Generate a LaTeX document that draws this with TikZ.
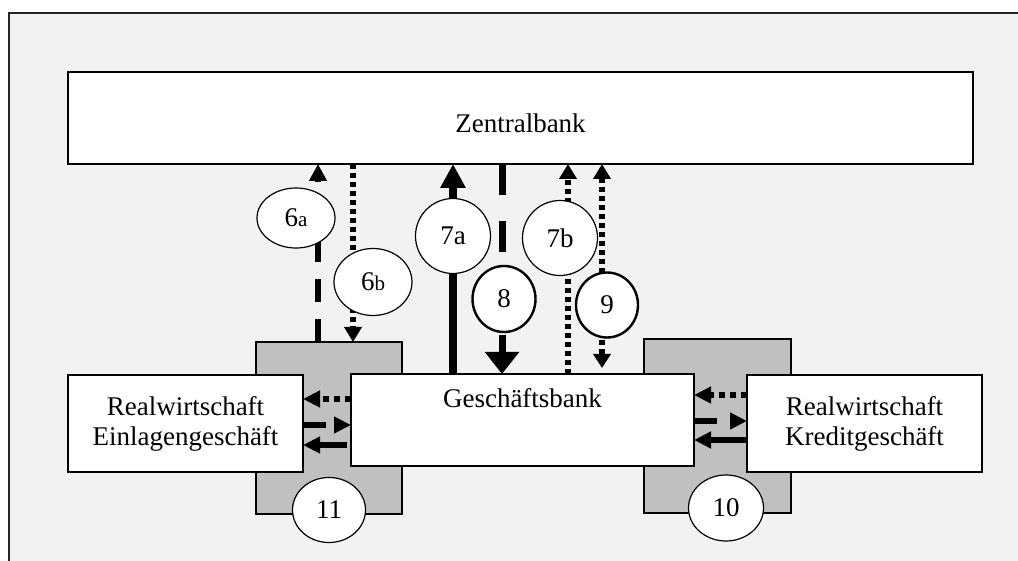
\documentclass[tikz,border=0pt]{standalone}
\usepackage{fontspec}
\setmainfont{Liberation Serif}
\usetikzlibrary{shapes.geometric,arrows.meta,positioning}
\definecolor{framegray}{HTML}{F2F2F2}
\definecolor{boxgray}{HTML}{C0C0C0}
\newcommand{\smallidx}[1]{{\fontsize{10.5}{12}\selectfont #1}}
\tikzset{%
bankbox/.style={rectangle, draw=black, line width=1.2pt, fill=white, outer sep=0pt, inner sep=0pt, align=center, font=\fontsize{13.5}{15}\selectfont},
shadebox/.style={rectangle, draw=black, line width=1.2pt, fill=boxgray, outer sep=0pt},
tagnode/.style={ellipse, draw=black, line width=0.6pt, fill=white, inner sep=0pt, font=\fontsize{13.5}{15}\selectfont},
thicktag/.style={tagnode, line width=1.2pt},
upsolid/.style={line width=4pt, -{Triangle[length=12pt,width=12pt]}},
downdash/.style={line width=3.5pt, dash pattern=on 15.5pt off 13pt, -{Triangle[length=11pt,width=16.5pt]}},
updash/.style={line width=3pt, dash pattern=on 11.5pt off 8.5pt, -{Triangle[length=8.5pt,width=8.5pt]}},
dotflow/.style={line width=2.6pt, dash pattern=on 2.5pt off 2pt, -{Triangle[length=7.5pt,width=8.5pt]}},
dotboth/.style={dotflow, {Triangle[length=7.5pt,width=8.5pt]}-{Triangle[length=7pt,width=8.5pt]}},
sidedot/.style={line width=3pt, dash pattern=on 3pt off 2.5pt, -{Triangle[length=8.5pt,width=8pt]}},
sidedash/.style={line width=3pt, dash pattern=on 11.5pt off 20pt, -{Triangle[length=8.5pt,width=8pt]}},
sidesolid/.style={line width=3pt, -{Triangle[length=8.5pt,width=8pt]}}
}
\begin{document}
\begin{tikzpicture}[x=0.5pt, y=-0.5pt]
		\useasboundingbox (0,0) rectangle (1018,561);
		% frame
		\fill[framegray] (9,13) rectangle (1018,561);
		\draw[line width=1pt, black!85] (9,561) -- (9,13) -- (1018,13);

		\node[shadebox, minimum width=73pt, minimum height=86pt] (gL) at (329,428) {};
		\node[shadebox, minimum width=73.5pt, minimum height=87pt] (gR) at (717.5,426) {};

		\node[bankbox, minimum width=452.5pt, minimum height=46pt, text height=15pt] (zb) at (520.5,118) {Zentralbank};
		\node[bankbox, minimum width=171.5pt, minimum height=46pt, text height=9.3pt, text depth=21.3pt] (gb) [below=105pt of zb, xshift=1pt] {Geschäftsbank};
		\node[bankbox, minimum width=117.5pt, minimum height=48.5pt] (eL) [left=24pt of gb, yshift=-1.75pt] {Realwirtschaft\\Einlagengeschäft};
		\node[bankbox, minimum width=117.5pt, minimum height=48.5pt] (kR) [right=26.5pt of gb, yshift=-1.75pt] {Realwirtschaft\\Kreditgeschäft};

		\draw[updash] 	(gL.north -| 318,0) 	-- (zb.south -| 318,0);
		\draw[dotflow] 	(zb.south -| 353,0) 	-- (gL.north -| 353,0);
		\draw[upsolid] 	(gb.north -| 453,0) 	-- (zb.south -| 453,0);
		\draw[downdash] (zb.south -| 502,0) 	-- (gb.north -| 502,0);
		\draw[dotflow] 	(gb.north -| 568,0) 	-- (zb.south -| 568,0);
		\draw[dotboth, shorten >=3pt] (zb.south -| 602,0) -- (gb.north -| 602,0);

		\draw[sidedot] 	(gb.west |- 0,399) 	-- (eL.east |- 0,399);
		\draw[sidedash] (eL.east |- 0,425) 	-- (gb.west |- 0,425);
		\draw[sidesolid, shorten <=2pt] (gb.west |- 0,445) -- (eL.east |- 0,445);
		\draw[sidedot] 	(kR.west |- 0,395) 	-- (gb.east |- 0,395);
		\draw[sidedash] (gb.east |- 0,421) 	-- (kR.west |- 0,421);
		\draw[sidesolid] (kR.west |- 0,440) 	-- (gb.east |- 0,440);

		\node[tagnode, minimum width=39pt, minimum height=30pt] (t6a) at (296,218) {6\smallidx{a}};
		\node[tagnode, minimum width=39pt, minimum height=33.5pt] (t6b) at (373,282) {6\smallidx{b}};
		\node[tagnode, minimum width=37.5pt, minimum height=37.5pt] (t7a) at (453,236) {7a};
		\node[tagnode, minimum width=37.5pt, minimum height=37.5pt] (t7b) at (560,238) {7b};
		\node[thicktag, minimum width=31.5pt, minimum height=33pt] (t8) at (504,299) {8};
		\node[thicktag, minimum width=31pt, minimum height=32.5pt] (t9) at (607,305) {9};
		\node[tagnode, minimum width=36.5pt, minimum height=32.5pt] (t11) at (329,510) {11};
		\node[tagnode, minimum width=37.5pt, minimum height=33pt] (t10) at (726,508) {10};
	\end{tikzpicture}
\end{document}
